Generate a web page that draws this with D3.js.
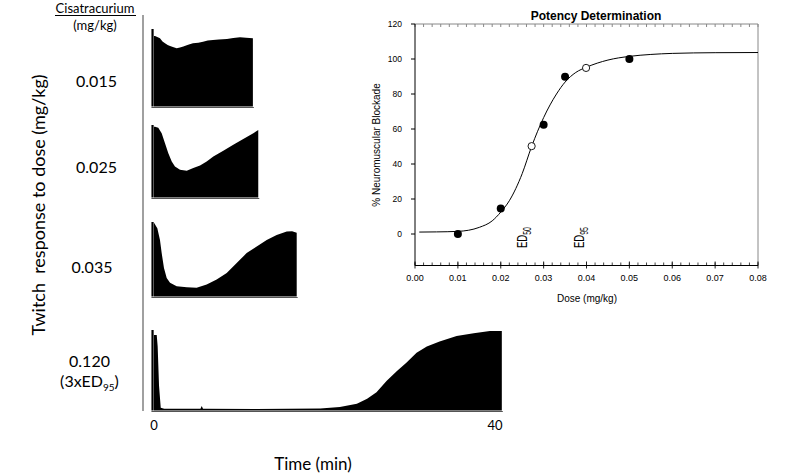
<!DOCTYPE html>
<html><head><meta charset="utf-8">
<script src="https://cdn.jsdelivr.net/npm/d3@7"></script>
<style>body{margin:0;background:#fff}svg{display:block}</style>
</head><body>
<svg id="c" width="800" height="476"></svg>
<script>
// ---------- DATA ----------
const doseLabels = ["0.015", "0.025", "0.035", "0.120"];
const timeTicks = [0, 40];
// twitch envelopes: [time (min), % of control twitch]
const trace015 = [[0.0,91],[0.12,91],[0.45,89.5],[0.7,88],[1.0,84],[1.29,81.6],[1.6,79.5],[1.88,78.2],[2.3,76.5],[2.66,75.2],[3.05,76.2],[3.44,77.3],[4.0,79.8],[4.57,81.6],[5.2,82.4],[5.75,83.7],[6.3,85.2],[6.92,85.9],[7.6,86.4],[8.56,87.2],[9.3,88.4],[10.09,89.4],[10.8,88.6],[11.6,88]];
const trace025 = [[0.0,97.7],[0.12,97.7],[0.5,96.3],[0.9,88.6],[1.29,74.9],[1.68,61.2],[2.08,49.7],[2.46,42.9],[3.05,38.4],[3.84,37],[4.61,40.7],[5.4,44.3],[6.18,49.7],[6.96,56.6],[8.13,64.4],[9.3,72.6],[10.47,80.8],[11.65,88.6],[12.23,93.2]];
const trace035 = [[0.0,99],[0.39,91.6],[0.7,76],[0.9,58.3],[1.17,38.3],[1.49,25],[1.88,18.3],[2.66,13.7],[3.84,12.4],[5.0,11.6],[6.18,16],[7.35,22.7],[8.53,31.6],[9.7,44.9],[10.87,58.3],[12.05,67.1],[13.22,76],[14.39,82.7],[15.57,87.1],[16.2,87.6],[16.74,85.7]];
const trace120 = [[0.0,93.9],[0.32,93.9],[0.43,79.6],[0.59,30.9],[0.79,3.5],[1.2,2.2],[5.45,2.2],[5.6,5.5],[5.75,2.2],[12,2.0],[19.5,2.4],[21.8,4.5],[23.8,8.5],[25.0,14.6],[26.1,22.8],[27.3,37],[28.5,49.2],[29.6,59.4],[30.8,71.6],[32.0,79.6],[33.5,85.7],[35.5,92.7],[37.5,95.9],[39.4,98.8],[40.8,98.8]];
const traces = [trace015, trace025, trace035, trace120];

// potency determination
const doseTicks = [0, 0.01, 0.02, 0.03, 0.04, 0.05, 0.06, 0.07, 0.08];
const blockTicks = [0, 20, 40, 60, 80, 100, 120];
const filledPts = [[0.01,0],[0.02,14.6],[0.03,62.4],[0.035,89.8],[0.05,100]];
const openPts = [[0.0272,50.2],[0.0399,94.9]];
const fitCurve = [[0.001,1.1],[0.005,1.2],[0.01,1.5],[0.015,3.8],[0.018,7.5],[0.02,12.5],[0.022,19],[0.025,34.5],[0.0272,50],[0.03,66.5],[0.033,80],[0.035,86.8],[0.0375,92.3],[0.04,95.3],[0.045,99.4],[0.05,101.5],[0.055,102.6],[0.06,103.2],[0.07,103.6],[0.08,103.7]];
const edLabels = [{d:0.0262, sub:"50"}, {d:0.0395, sub:"95"}];

// ---------- DRAW ----------
const svg = d3.select("#c");
const cal = "Lato, 'Open Sans', sans-serif";
const arial = "'Liberation Sans', Arial, sans-serif";

// left labels
svg.append("text").attr("x",95).attr("y",13).attr("text-anchor","middle")
  .style("font-family",cal).style("font-size","13px").text("Cisatracurium");
svg.append("line").attr("x1",55).attr("x2",136).attr("y1",15.5).attr("y2",15.5)
  .attr("stroke","#000").attr("stroke-width",1);
svg.append("text").attr("x",95).attr("y",30).attr("text-anchor","middle")
  .style("font-family",cal).style("font-size","13px").text("(mg/kg)");

const labelPos = [[96.5,87],[96.5,173],[92,273],[89.5,367]];
doseLabels.forEach((s,i)=>{
  svg.append("text").attr("x",labelPos[i][0]).attr("y",labelPos[i][1]).attr("text-anchor","middle")
    .style("font-family",cal).style("font-size","16px").text(s);
});
const ed = svg.append("text").attr("x",89.5).attr("y",387).attr("text-anchor","middle")
  .style("font-family",cal).style("font-size","16px");
ed.append("tspan").text("(3xED");
ed.append("tspan").attr("dy",4).style("font-size","10px").text("95");
ed.append("tspan").attr("dy",-4).text(")");

svg.append("text").attr("transform","translate(45,205) rotate(-90)").attr("text-anchor","middle")
  .style("font-family",cal).style("font-size","18px").style("white-space","pre")
  .text("Twitch  response to dose (mg/kg)");

svg.append("line").attr("x1",143).attr("x2",143).attr("y1",15).attr("y2",411)
  .attr("stroke","#808080").attr("stroke-width",1.5);

// traces
const xT = d3.scaleLinear().domain([0,40]).range([154,495]);
const panels = [{y0:106.5,y100:29},{y0:197.5,y100:125},{y0:296.5,y100:222},{y0:410.5,y100:330}];
traces.forEach((tr,i)=>{
  const p = panels[i];
  const yS = d3.scaleLinear().domain([0,100]).range([p.y0,p.y100]);
  const area = d3.area().x(d=>xT(d[0])).y0(yS(0)).y1(d=>yS(d[1])).curve(d3.curveLinear);
  svg.append("path").datum(tr).attr("d",area).attr("fill","#000");
  // calibration bar
  svg.append("rect").attr("x",xT(-0.3)).attr("width",2.2).attr("y",yS(100)).attr("height",yS(0)-yS(100)).attr("fill","#000");
  const xEnd = xT(tr[tr.length-1][0]);
  svg.append("line").attr("x1",xT(-0.3)).attr("x2",xEnd+1).attr("y1",p.y0+1).attr("y2",p.y0+1)
    .attr("stroke","#555").attr("stroke-width",1.2);
});
svg.selectAll(".tt").data(timeTicks).enter().append("text")
  .attr("x",d=>xT(d)).attr("y",430).attr("text-anchor","middle")
  .style("font-family",cal).style("font-size","13px").text(d=>d);
svg.append("text").attr("x",313).attr("y",470).attr("text-anchor","middle")
  .style("font-family",cal).style("font-size","17px").text("Time (min)");

// potency chart
const L=415, R=758, T=24, B=265.5;
const x = d3.scaleLinear().domain([0,0.08]).range([L,R]);
const y = d3.scaleLinear().domain([-18,120]).range([B, 24]);
const g = svg.append("g");
g.append("line").attr("x1",L).attr("x2",R).attr("y1",T).attr("y2",T).attr("stroke","#888");
g.append("line").attr("x1",R).attr("x2",R).attr("y1",T).attr("y2",B).attr("stroke","#888");
const minorX = d3.range(0,0.0801,0.002);
g.selectAll(".mt").data(minorX).enter().append("line")
  .attr("x1",d=>x(d)).attr("x2",d=>x(d)).attr("y1",T).attr("y2",T+3).attr("stroke","#888");
g.selectAll(".mb").data(minorX).enter().append("line")
  .attr("x1",d=>x(d)).attr("x2",d=>x(d)).attr("y1",B).attr("y2",B-3).attr("stroke","#444");
g.selectAll(".Mb").data(doseTicks).enter().append("line")
  .attr("x1",d=>x(d)).attr("x2",d=>x(d)).attr("y1",B-4).attr("y2",B+3).attr("stroke","#222");
g.append("line").attr("x1",L).attr("x2",R).attr("y1",B).attr("y2",B).attr("stroke","#000");
g.append("line").attr("x1",L).attr("x2",L).attr("y1",T).attr("y2",B).attr("stroke","#000");
g.selectAll(".yt").data(blockTicks).enter().append("line")
  .attr("x1",L-4).attr("x2",L).attr("y1",d=>y(d)).attr("y2",d=>y(d)).attr("stroke","#000");
g.selectAll(".yl").data(blockTicks).enter().append("text")
  .attr("x",402).attr("y",d=>y(d)+3).attr("text-anchor","end")
  .style("font-family",arial).style("font-size","8.5px").text(d=>d);
g.selectAll(".xl").data(doseTicks).enter().append("text")
  .attr("x",d=>x(d)).attr("y",281).attr("text-anchor","middle")
  .style("font-family",arial).style("font-size","9px").text(d=>d.toFixed(2));
g.append("text").attr("x",587).attr("y",302).attr("text-anchor","middle")
  .style("font-family",arial).style("font-size","10px").text("Dose (mg/kg)");
g.append("text").attr("transform","translate(380,145) rotate(-90)").attr("text-anchor","middle")
  .style("font-family",arial).style("font-size","10px").text("% Neuromuscular Blockade");
g.append("text").attr("x",596).attr("y",20).attr("text-anchor","middle")
  .style("font-family",arial).style("font-size","12px").style("font-weight","bold").text("Potency Determination");

const line = d3.line().x(d=>x(d[0])).y(d=>y(d[1])).curve(d3.curveMonotoneX);
g.append("path").datum(fitCurve).attr("d",line).attr("fill","none").attr("stroke","#000").attr("stroke-width",1);
g.selectAll(".fp").data(filledPts).enter().append("circle")
  .attr("cx",d=>x(d[0])).attr("cy",d=>y(d[1])).attr("r",4).attr("fill","#000");
g.selectAll(".op").data(openPts).enter().append("circle")
  .attr("cx",d=>x(d[0])).attr("cy",d=>y(d[1])).attr("r",3.6).attr("fill","#fff").attr("stroke","#000").attr("stroke-width",0.9);

edLabels.forEach(e=>{
  const t = g.append("text").attr("transform",`translate(${x(e.d)},248) rotate(-90) scale(1,1.45)`)
    .style("font-family",arial).style("font-size","9.5px");
  t.append("tspan").text("ED");
  t.append("tspan").attr("dy",2.5).style("font-size","7px").text(e.sub);
});
</script>
</body></html>
